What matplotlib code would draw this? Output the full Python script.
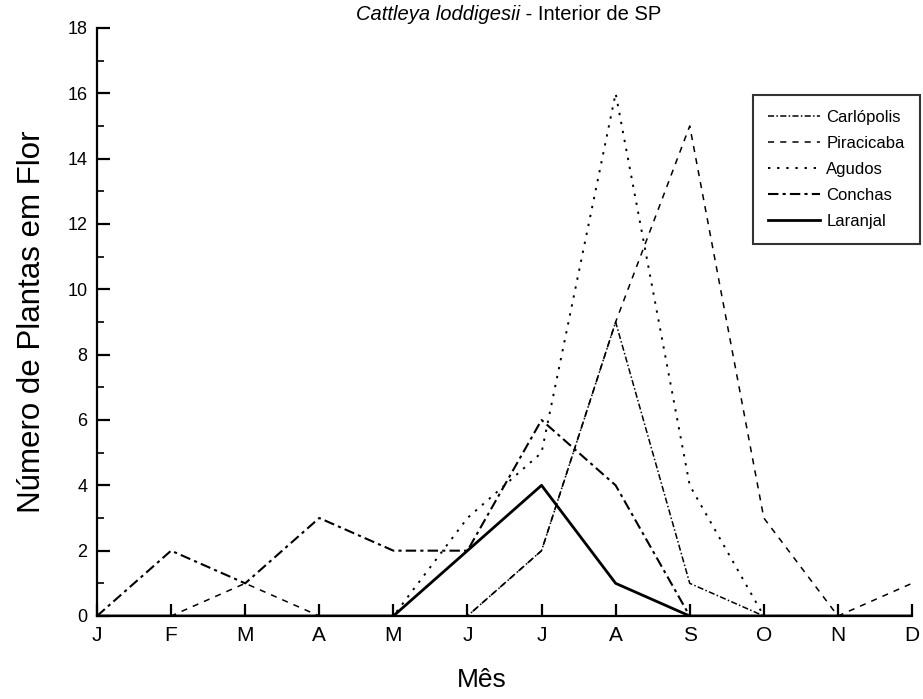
import matplotlib
matplotlib.use("Agg")
import matplotlib.pyplot as plt
from matplotlib import font_manager
from matplotlib.ticker import MultipleLocator

names = {f.name for f in font_manager.fontManager.ttflist}
FONT = "Liberation Sans Narrow" if "Liberation Sans Narrow" in names else "Liberation Sans"
plt.rcParams["font.family"] = [FONT, "DejaVu Sans"]

months = ["J", "F", "M", "A", "M", "J", "J", "A", "S", "O", "N", "D"]
carlopolis = [0, 0, 0, 0, 0, 0, 2, 9, 1, 0, 0, 0]
piracicaba = [0, 0, 1, 0, 0, 0, 2, 9, 15, 3, 0, 1]
agudos = [0, 0, 0, 0, 0, 3, 5, 16, 4, 0, 0, 0]
conchas = [0, 2, 1, 3, 2, 2, 6, 4, 0, 0, 0, 0]
laranjal = [0, 0, 0, 0, 0, 2, 4, 1, 0, 0, 0, 0]

W, H = 923, 699
fig = plt.figure(figsize=(W / 100, H / 100), dpi=100)
ax = fig.add_axes([97 / W, 1 - 616 / H, (912 - 97) / W, (616 - 28) / H])

x = list(range(len(months)))
ax.plot(x, carlopolis, color="black", lw=1.1, ls=(0, (4, 1.5, 1, 1.5)), label="Carlópolis")
ax.plot(x, piracicaba, color="black", lw=1.1, ls=(0, (4, 4)), label="Piracicaba")
ax.plot(x, agudos, color="black", lw=1.4, ls=(0, (1.2, 3.5)), label="Agudos")
ax.plot(x, conchas, color="black", lw=1.5, ls=(0, (5, 2, 1.5, 2)), label="Conchas")
ax.plot(x, laranjal, color="black", lw=2.0, ls="-", label="Laranjal")

ax.set_xlim(0, 11)
ax.set_ylim(0, 18)
ax.set_xticks(x)
ax.set_xticklabels(months)
ax.yaxis.set_major_locator(MultipleLocator(2))
ax.yaxis.set_minor_locator(MultipleLocator(1))
for s in ["top", "right"]:
    ax.spines[s].set_visible(False)
for s in ["left", "bottom"]:
    ax.spines[s].set_linewidth(1.6)
ax.tick_params(axis="both", which="major", direction="in", length=9, width=1.6, pad=7)
ax.tick_params(axis="x", which="major", labelsize=15)
ax.tick_params(axis="y", which="major", labelsize=13)
ax.tick_params(axis="y", which="minor", direction="in", length=5, width=1.2)
ax.tick_params(axis="x", which="minor", length=0)

ax.set_xlabel("Mês", fontsize=19)
ax.xaxis.set_label_coords((482 - 97) / 815, -(668 - 616) / 588)
ax.set_ylabel("Número de Plantas em Flor", fontsize=22.5)
ax.yaxis.set_label_coords(-(97 - 47) / 815, 0.5)

t1 = fig.text(0, 1 - 14 / H, "Cattleya loddigesii", style="italic", fontsize=14.5, ha="left", va="center")
t2 = fig.text(0, 1 - 14 / H, " - Interior de SP", fontsize=14.5, ha="left", va="center")
fig.canvas.draw()
r = fig.canvas.get_renderer()
w1 = t1.get_window_extent(r).width
w2 = t2.get_window_extent(r).width
left = 509 - (w1 + w2) / 2
t1.set_x(left / W)
t2.set_x((left + w1) / W)

leg = ax.legend(loc="upper left", bbox_to_anchor=((753 - 97) / 815, (616 - 95) / 588),
                frameon=True, fancybox=False, edgecolor="black", fontsize=12,
                handlelength=3.1, handletextpad=0.4, labelspacing=0.66,
                borderpad=0.9, borderaxespad=0)
leg.get_frame().set_linewidth(1.5)

fig.savefig("out.png", dpi=100)
